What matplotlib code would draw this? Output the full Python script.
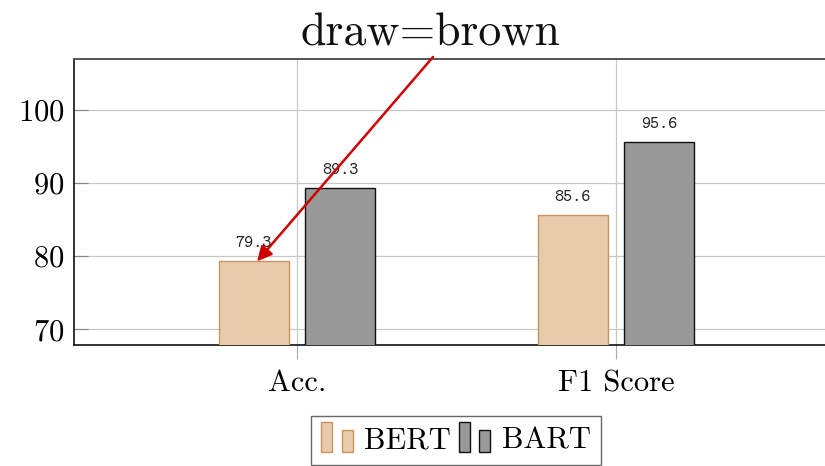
import matplotlib
matplotlib.use("Agg")
import matplotlib.pyplot as plt
from matplotlib.legend_handler import HandlerBase
from matplotlib.patches import Rectangle
import numpy as np

plt.rcParams['font.family'] = ['cmr10', 'DejaVu Serif']
plt.rcParams['axes.unicode_minus'] = False
plt.rcParams['axes.formatter.use_mathtext'] = True

categories = ['Acc.', 'F1 Score']
bert = [79.3, 85.6]
bart = [89.3, 95.6]
series_names = ['BERT', 'BART']
yticks = [70, 80, 90, 100]

BERT_FACE = '#e8cbab'
BERT_EDGE = '#c9955c'
BART_FACE = '#999999'
BART_EDGE = '#111111'


class TwoBarHandler(HandlerBase):
    """pgfplots-style ybar legend image: two little bars."""
    def create_artists(self, legend, orig_handle, xdescent, ydescent,
                       width, height, fontsize, trans):
        fc = orig_handle.get_facecolor()
        ec = orig_handle.get_edgecolor()
        w = width * 0.3
        r1 = Rectangle((-xdescent, -ydescent - height * 0.2), w, height * 1.4,
                       facecolor=fc, edgecolor=ec, lw=1.0, transform=trans)
        r2 = Rectangle((-xdescent + width * 0.55, -ydescent - height * 0.2), w, height * 1.05,
                       facecolor=fc, edgecolor=ec, lw=1.0, transform=trans)
        return [r1, r2]


fig = plt.figure(figsize=(8.25, 4.66), dpi=100)
ax = fig.add_axes([74 / 825, 1 - 345 / 466, (838 - 74) / 825, (345 - 59) / 466])

x = np.arange(len(categories))
off = 0.135
w = 0.22
b1 = ax.bar(x - off, bert, w, color=BERT_FACE, edgecolor=BERT_EDGE, lw=1.0, zorder=3)
b2 = ax.bar(x + off, bart, w, color=BART_FACE, edgecolor=BART_EDGE, lw=1.0, zorder=3)

for bars, vals in ((b1, bert), (b2, bart)):
    for r, v in zip(bars, vals):
        ax.annotate(f'{v:.1f}', (r.get_x() + r.get_width() / 2, v),
                    xytext=(0, 13), textcoords='offset points',
                    ha='center', va='center', fontsize=12.5, color='#222222',
                    family='cmtt10', zorder=4)

ax.set_xlim(-0.699, 1.696)
ax.set_ylim(67.85, 107)
ax.set_xticks(x)
ax.set_xticklabels(categories)
ax.set_yticks(yticks)
ax.tick_params(axis='y', direction='in', length=10, color='#888888', labelsize=22, pad=7)
ax.tick_params(axis='x', direction='out', length=10, color='#aaaaaa', labelsize=22, pad=8)
ax.grid(True, color='#c8c8c8', lw=0.9, zorder=0)
ax.set_axisbelow(True)

for s in ('left', 'bottom'):
    ax.spines[s].set_color('#111111')
    ax.spines[s].set_linewidth(1.2)
ax.spines['top'].set_color('#555555')
ax.spines['top'].set_linewidth(1.4)
ax.spines['right'].set_visible(False)

leg = fig.legend([b1[0], b2[0]], series_names, loc='upper center',
                 bbox_to_anchor=(456 / 825, 1 - 416 / 466), ncol=2,
                 handler_map={b1[0]: TwoBarHandler(), b2[0]: TwoBarHandler()},
                 fontsize=22, frameon=True, fancybox=False, edgecolor='#444444',
                 handlelength=1.2, handletextpad=0.2, columnspacing=0.25,
                 borderpad=0.35, borderaxespad=0)
leg.get_frame().set_linewidth(1.0)

fig.text(430 / 825, 1 - 34 / 466, 'draw=brown', ha='center', va='center',
         fontsize=33, color='#111111')

ax.annotate('', xy=(x[0] - off + 0.01, bert[0]), xycoords='data',
            xytext=(433 / 825, 1 - 57 / 466), textcoords='figure fraction',
            arrowprops=dict(arrowstyle='-|>', color='#cc0000', lw=1.8,
                            mutation_scale=22, shrinkA=0, shrinkB=0),
            annotation_clip=False, zorder=5)

fig.savefig('out.png', dpi=100)
